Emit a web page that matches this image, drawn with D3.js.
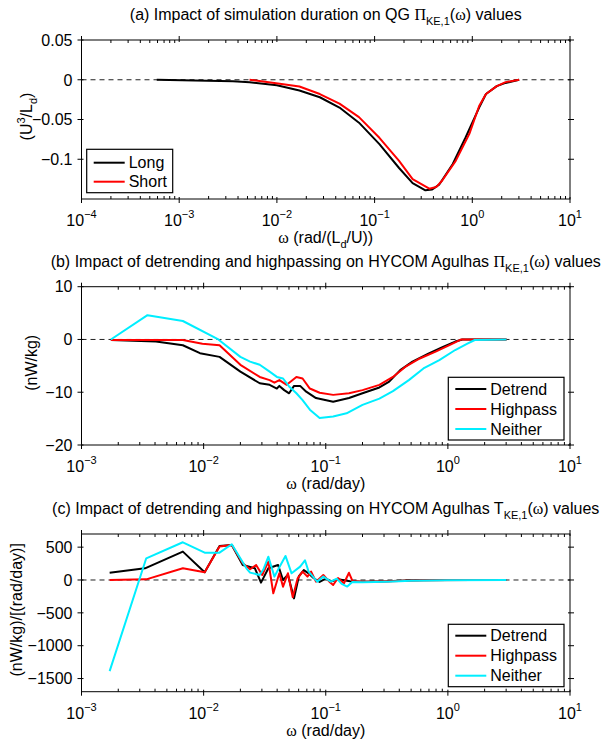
<!DOCTYPE html>
<html>
<head>
<meta charset="utf-8">
<script src="https://cdn.jsdelivr.net/npm/d3@7"></script>
<style>
  body { margin: 0; background: #fff; }
  text { font-family: "Liberation Sans", Arial, sans-serif; fill: #000; }
  .sym { font-family: "Liberation Serif", "DejaVu Serif", serif; }
</style>
</head>
<body>
<svg id="chart" width="609" height="742"></svg>
<script>
// ---- panel (a): QG, long vs short run ----
const qgLongW  = [5.89e-4, 1.445e-3, 3.55e-3, 5.25e-3, 0.01, 0.017, 0.0275, 0.0437, 0.0692, 0.112, 0.178, 0.245, 0.331, 0.389, 0.457, 0.631, 0.851, 1.175, 1.38, 1.78, 2.19, 3.02];
const qgLongV  = [0, -0.001, -0.002, -0.003, -0.007, -0.0135, -0.022, -0.035, -0.054, -0.081, -0.111, -0.130, -0.139, -0.138, -0.132, -0.106, -0.073, -0.035, -0.018, -0.008, -0.004, 0];
const qgShortW = [5.25e-3, 0.0107, 0.017, 0.0275, 0.0437, 0.0692, 0.112, 0.178, 0.245, 0.363, 0.427, 0.49, 0.676, 0.933, 1.175, 1.38, 1.78, 2.19, 3.02];
const qgShortV = [0, -0.005, -0.0085, -0.018, -0.030, -0.047, -0.073, -0.102, -0.125, -0.137, -0.135, -0.127, -0.102, -0.068, -0.033, -0.018, -0.008, -0.003, 0];

// ---- panel (b): HYCOM Pi ----
const piDetrendW = [0.00174, 0.00407, 0.00676, 0.00933, 0.0135, 0.02, 0.0288, 0.0347, 0.0398, 0.0417, 0.0457, 0.0501, 0.055, 0.0617, 0.0692, 0.0832, 0.115, 0.155, 0.2, 0.275, 0.331, 0.407, 0.513, 0.692, 0.912, 1.148, 1.318, 2.0, 3.02];
const piDetrendV = [-0.1, -0.4, -1.1, -2.6, -3.3, -6.1, -8.3, -8.6, -9.3, -8.8, -9.6, -10.2, -8.8, -8.8, -9.9, -11.1, -11.8, -11.1, -10.2, -9.1, -8.0, -5.8, -4.2, -2.7, -1.4, -0.4, 0, 0, 0];
const piHighW = [0.00174, 0.00676, 0.00977, 0.0135, 0.02, 0.0288, 0.0347, 0.038, 0.0417, 0.0479, 0.0575, 0.0646, 0.0741, 0.0891, 0.115, 0.155, 0.2, 0.275, 0.355, 0.447, 0.589, 0.794, 1.072, 1.288, 3.02];
const piHighV = [-0.1, -0.1, -0.8, -1.1, -4.8, -7.1, -7.7, -8.2, -7.7, -8.6, -7.1, -7.4, -9.3, -10.1, -10.5, -10.2, -9.6, -8.6, -7.1, -5.2, -3.6, -2.3, -0.9, 0, 0];
const piNeitherW = [0.00174, 0.00347, 0.00676, 0.0132, 0.02, 0.024, 0.0288, 0.0347, 0.0398, 0.0447, 0.0501, 0.0575, 0.0646, 0.0741, 0.0891, 0.115, 0.148, 0.2, 0.275, 0.355, 0.479, 0.631, 0.851, 1.148, 1.445, 1.66, 3.02];
const piNeitherV = [0, 4.6, 3.5, 0, -3.3, -4.2, -4.8, -6.1, -7.1, -7.4, -8.9, -10.2, -11.5, -13.3, -14.9, -14.6, -14.0, -12.4, -11.2, -9.8, -7.7, -5.5, -3.9, -2.0, -0.8, -0.1, 0];

// ---- panel (c): HYCOM T ----
const tDetrendW = [0.0017, 0.00331, 0.00676, 0.0102, 0.0135, 0.017, 0.0209, 0.0263, 0.0295, 0.0339, 0.0407, 0.0447, 0.049, 0.055, 0.0603, 0.0661, 0.0724, 0.0794, 0.0891, 0.1, 0.112, 0.126, 0.158, 0.2, 0.316, 0.501, 1.0, 3.02];
const tDetrendV = [111, 178, 432, 117, 518, 533, 229, 178, -40, 178, 229, 0, 80, -280, 60, 150, 100, 30, -30, 20, -20, 10, -20, -25, -20, -5, 0, 0];
const tHighW = [0.0017, 0.00339, 0.00676, 0.0102, 0.0135, 0.017, 0.0209, 0.024, 0.0269, 0.0302, 0.0339, 0.0372, 0.0417, 0.0447, 0.049, 0.0537, 0.0589, 0.0646, 0.0708, 0.0759, 0.0832, 0.0955, 0.107, 0.115, 0.126, 0.141, 0.155, 0.166, 0.2, 0.251, 0.398, 0.631, 1.585, 3.02];
const tHighV = [0, 10, 178, 117, 508, 533, 254, 163, 229, 76, 279, -203, 102, -102, 102, -264, 25, 127, 51, 127, -25, 76, -25, -76, 30, -50, 110, -20, -25, -25, -15, -5, 0, 0];
const tNeitherW = [0.0017, 0.00339, 0.00676, 0.0102, 0.0135, 0.017, 0.0224, 0.024, 0.0288, 0.0309, 0.0339, 0.038, 0.0417, 0.0468, 0.0525, 0.0617, 0.0676, 0.0724, 0.0851, 0.0955, 0.11, 0.123, 0.135, 0.15, 0.165, 0.2, 0.251, 0.316, 0.501, 1.0, 3.02];
const tNeitherV = [-1387, 330, 574, 416, 416, 544, 178, 112, 76, 163, 355, 51, 193, 366, 102, 203, 300, 127, -25, 51, -25, 20, -60, -100, -30, -35, -30, -25, -10, -3, 0];

const seriesColors = ["#000000", "#ff0000", "#00eeff"];
const legendQG = ["Long", "Short"];
const legendHY = ["Detrend", "Highpass", "Neither"];

const svg = d3.select("#chart");
const left = 81.5, right = 570;

function zip(w, v) { return w.map((d, i) => [d, v[i]]); }

function drawPanel(p) {
  const x = d3.scaleLog().domain(p.xDomain).range([left, right]);
  const y = d3.scaleLinear().domain(p.yDomain).range([p.bottom, p.top]);
  const g = svg.append("g");

  // title
  const t = g.append("text").attr("x", (left + right) / 2).attr("y", p.top - 20)
    .attr("text-anchor", "middle").attr("font-size", 16);
  p.title(t);

  // zero line
  g.append("line").attr("x1", left).attr("x2", right).attr("y1", y(0)).attr("y2", y(0))
    .attr("stroke", "#222").attr("stroke-width", 1).attr("stroke-dasharray", "5,4");

  // data
  const clipId = "clip" + p.id;
  g.append("clipPath").attr("id", clipId).append("rect")
    .attr("x", left).attr("y", p.top).attr("width", right - left).attr("height", p.bottom - p.top);
  const line = d3.line().x(d => x(d[0])).y(d => y(d[1]));
  p.series.forEach((s, i) => {
    g.append("path").datum(s).attr("d", line).attr("fill", "none")
      .attr("stroke", seriesColors[i]).attr("stroke-width", 2)
      .attr("stroke-linejoin", "round").attr("clip-path", `url(#${clipId})`);
  });

  // frame
  g.append("rect").attr("x", left).attr("y", p.top).attr("width", right - left)
    .attr("height", p.bottom - p.top).attr("fill", "none").attr("stroke", "#000");

  // x ticks
  const xt = x.ticks();
  xt.forEach(v => {
    const major = Math.abs(Math.log10(v) - Math.round(Math.log10(v))) < 1e-9;
    const xx = x(v);
    if (major) {
      g.append("line").attr("x1", xx).attr("x2", xx).attr("y1", p.bottom - 2).attr("y2", p.bottom + 4).attr("stroke", "#000");
      g.append("line").attr("x1", xx).attr("x2", xx).attr("y1", p.top + 2).attr("y2", p.top - 4).attr("stroke", "#000");
      const lab = g.append("text").attr("x", xx).attr("y", p.bottom + 27).attr("text-anchor", "middle").attr("font-size", 16);
      lab.append("tspan").text("10");
      const e = Math.round(Math.log10(v));
      lab.append("tspan").attr("dy", -8).attr("font-size", 11).text(e < 0 ? "\u2212" + (-e) : e);
    } else {
      g.append("line").attr("x1", xx).attr("x2", xx).attr("y1", p.bottom).attr("y2", p.bottom - 3).attr("stroke", "#000");
      g.append("line").attr("x1", xx).attr("x2", xx).attr("y1", p.top).attr("y2", p.top + 3).attr("stroke", "#000");
    }
  });

  // y ticks
  p.yTicks.forEach(v => {
    const yy = y(v);
    g.append("line").attr("x1", left - 4).attr("x2", left + 2).attr("y1", yy).attr("y2", yy).attr("stroke", "#000");
    g.append("line").attr("x1", right + 4).attr("x2", right - 2).attr("y1", yy).attr("y2", yy).attr("stroke", "#000");
    g.append("text").attr("x", left - 9).attr("y", yy).attr("dy", "0.36em")
      .attr("text-anchor", "end").attr("font-size", 16)
      .text(v < 0 ? "\u2212" + String(-v) : String(v));
  });

  // axis labels
  const xl = g.append("text").attr("x", (left + right) / 2).attr("y", p.bottom + 44)
    .attr("text-anchor", "middle").attr("font-size", 16);
  xl.append("tspan").attr("class", "sym").text("\u03c9");
  p.xLabel(xl);
  const yl = g.append("text")
    .attr("transform", `translate(${p.yLabelX},${(p.top + p.bottom) / 2 - 3}) rotate(-90)`)
    .attr("text-anchor", "middle").attr("font-size", 16);
  p.yLabel(yl);

  // legend
  const L = p.legend;
  g.append("rect").attr("x", L.x).attr("y", L.y).attr("width", L.w).attr("height", L.h)
    .attr("fill", "#fff").attr("stroke", "#000").attr("stroke-width", 1.2);
  L.names.forEach((name, i) => {
    const yy = L.y + L.first + i * L.step;
    g.append("line").attr("x1", L.x + 7).attr("x2", L.x + 38).attr("y1", yy).attr("y2", yy)
      .attr("stroke", seriesColors[i]).attr("stroke-width", 2);
    g.append("text").attr("x", L.x + 42).attr("y", yy).attr("dy", "0.36em").attr("font-size", 16).text(name);
  });
}

function titleWithSub(t, pre, sym, sub, post) {
  t.append("tspan").text(pre);
  t.append("tspan").attr("class", "sym").text(sym);
  t.append("tspan").attr("dy", 5).attr("font-size", 11).text(sub);
  t.append("tspan").attr("dy", -5).text("(");
  t.append("tspan").attr("class", "sym").text("\u03c9");
  t.append("tspan").text(post);
}

drawPanel({
  id: "a", top: 40, bottom: 199, xDomain: [1e-4, 10], yDomain: [-0.15, 0.05],
  yTicks: [-0.1, -0.05, 0, 0.05],
  series: [zip(qgLongW, qgLongV), zip(qgShortW, qgShortV)],
  title: t => titleWithSub(t, "(a) Impact of simulation duration on QG ", "\u03a0", "KE,1", ") values"),
  xLabel: t => {
    t.append("tspan").text(" (rad/(L");
    t.append("tspan").attr("dy", 5).attr("font-size", 11).text("d");
    t.append("tspan").attr("dy", -5).text("/U))");
  },
  yLabelX: 32,
  yLabel: t => {
    t.append("tspan").text("(U");
    t.append("tspan").attr("dy", -7).attr("font-size", 11).text("3");
    t.append("tspan").attr("dy", 7).text("/L");
    t.append("tspan").attr("dy", 5).attr("font-size", 11).text("d");
    t.append("tspan").attr("dy", -5).text(")");
  },
  legend: { x: 86.7, y: 149.3, w: 86, h: 43.4, first: 13.4, step: 19, names: legendQG }
});

drawPanel({
  id: "b", top: 286.7, bottom: 445, xDomain: [1e-3, 10], yDomain: [-20, 10],
  yTicks: [-20, -10, 0, 10],
  series: [zip(piDetrendW, piDetrendV), zip(piHighW, piHighV), zip(piNeitherW, piNeitherV)],
  title: t => titleWithSub(t, "(b) Impact of detrending and highpassing on HYCOM Agulhas ", "\u03a0", "KE,1", ") values"),
  xLabel: t => t.append("tspan").text(" (rad/day)"),
  yLabelX: 37,
  yLabel: t => t.text("(nW/kg)"),
  legend: { x: 448.3, y: 377.3, w: 115.7, h: 62.7, first: 11.7, step: 20, names: legendHY }
});

drawPanel({
  id: "c", top: 534, bottom: 691.7, xDomain: [1e-3, 10], yDomain: [-1700, 700],
  yTicks: [-1500, -1000, -500, 0, 500],
  series: [zip(tDetrendW, tDetrendV), zip(tHighW, tHighV), zip(tNeitherW, tNeitherV)],
  title: t => {
    t.append("tspan").text("(c) Impact of detrending and highpassing on HYCOM Agulhas T");
    t.append("tspan").attr("dy", 5).attr("font-size", 11).text("KE,1");
    t.append("tspan").attr("dy", -5).text("(");
    t.append("tspan").attr("class", "sym").text("\u03c9");
    t.append("tspan").text(") values");
  },
  xLabel: t => t.append("tspan").text(" (rad/day)"),
  yLabelX: 22,
  yLabel: t => t.text("(nW/kg)/[(rad/day)]"),
  legend: { x: 448.3, y: 624.3, w: 115.7, h: 62.4, first: 11.4, step: 20, names: legendHY }
});
</script>
</body>
</html>
